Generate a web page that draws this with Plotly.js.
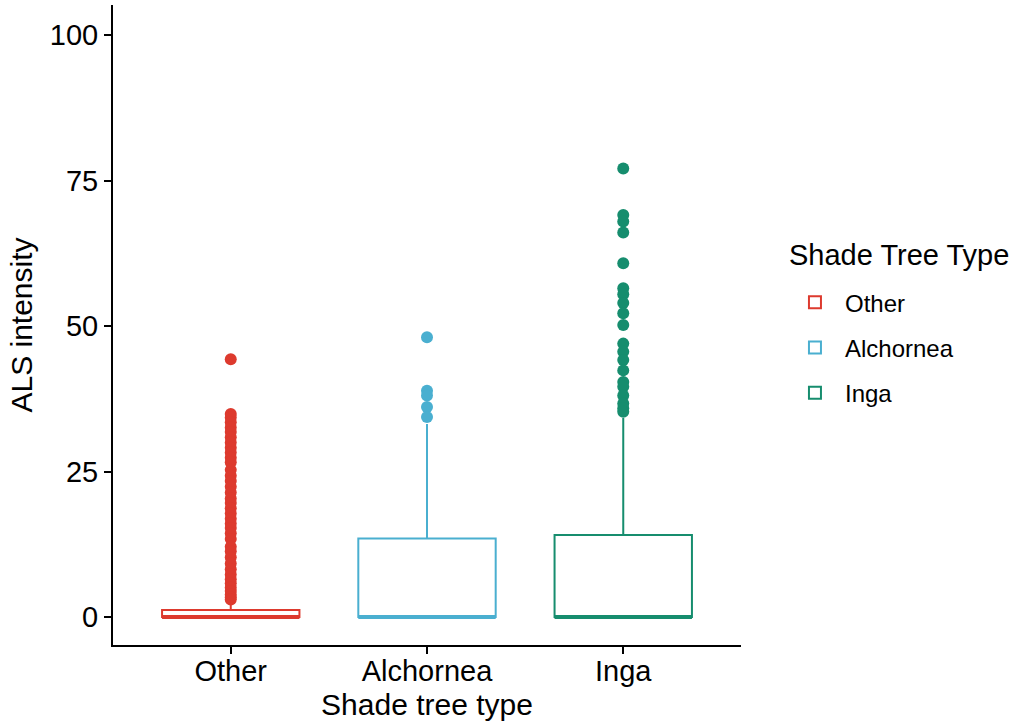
<!DOCTYPE html>
<html>
<head>
<meta charset="utf-8">
<script src="https://cdn.plot.ly/plotly-3.0.1.min.js"></script>
<style>html,body{margin:0;padding:0;background:#fff;}#chart{width:1029px;height:727px;}</style>
</head>
<body>
<div id="chart"></div>
<script>
const categories = ["Other", "Alchornea", "Inga"];
const colors = ["#DD3A2E", "#4AAFD0", "#168D6E"];
const q1 = [0, 0, 0];
const medians = [0, 0, 0];
const q3 = [1.2, 13.5, 14.1];
const lowerFences = [0, 0, 0];
const upperFences = [2.3, 33.2, 34.2];
const outliersOther = [44.3, 34.9, 34.3, 33.5, 32.6, 31.8, 30.9, 30.0, 29.1, 28.3, 27.4, 26.6, 25.3, 24.3, 23.4, 22.4, 21.4, 20.4, 19.6, 18.7, 17.8, 16.9, 16.1, 15.3, 14.4, 13.4, 12.1, 11.3, 10.3, 9.2, 8.2, 7.3, 6.5, 5.8, 5.1, 4.5, 3.9, 3.4, 3.0];
const outliersAlchornea = [48.1, 38.9, 38.1, 36.1, 34.4];
const outliersInga = [77.1, 69.1, 68.0, 66.1, 60.8, 56.5, 55.5, 54.0, 52.2, 50.2, 47.0, 45.6, 44.2, 42.4, 40.4, 39.6, 38.1, 36.7, 35.9, 35.3];
const outliers = [outliersOther, outliersAlchornea, outliersInga];
const legendTitle = "Shade Tree Type";

const font = "Liberation Sans, Arial, Helvetica, sans-serif";
const traces = [];
categories.forEach((c, i) => {
  traces.push({
    type: "box",
    name: c,
    legendgroup: c,
    x: [c],
    q1: [q1[i]],
    median: [medians[i]],
    q3: [q3[i]],
    lowerfence: [lowerFences[i]],
    upperfence: [upperFences[i]],
    boxpoints: false,
    width: 0.7,
    whiskerwidth: 0,
    line: {color: colors[i], width: 2},
    fillcolor: "white",
    hoverinfo: "skip"
  });
});
// thicker median line (as ggplot draws it)
categories.forEach((c, i) => {
  traces.push({
    type: "box",
    name: c + " median",
    legendgroup: c,
    showlegend: false,
    x: [c],
    q1: [medians[i]],
    median: [medians[i]],
    q3: [medians[i]],
    lowerfence: [medians[i]],
    upperfence: [medians[i]],
    boxpoints: false,
    width: 0.7,
    whiskerwidth: 0,
    line: {color: colors[i], width: 4},
    fillcolor: "rgba(0,0,0,0)",
    hoverinfo: "skip"
  });
});
categories.forEach((c, i) => {
  traces.push({
    type: "scatter",
    mode: "markers",
    name: c + " outliers",
    legendgroup: c,
    showlegend: false,
    x: outliers[i].map(() => c),
    y: outliers[i],
    marker: {color: colors[i], size: 12, line: {width: 0}},
    hoverinfo: "y"
  });
});

const layout = {
  width: 1029,
  height: 727,
  margin: {l: 113, r: 288, t: 5, b: 82},
  paper_bgcolor: "white",
  plot_bgcolor: "white",
  font: {family: font, color: "black"},
  boxmode: "overlay",
  showlegend: true,
  xaxis: {
    type: "category",
    categoryorder: "array",
    categoryarray: categories,
    range: [-0.6, 2.6],
    showline: true,
    linecolor: "black",
    linewidth: 2,
    ticks: "outside",
    ticklen: 7,
    tickwidth: 2,
    tickcolor: "black",
    ticklabelstandoff: -8,
    showgrid: false,
    zeroline: false,
    tickfont: {size: 29, family: font, color: "black"},
    title: {text: "Shade tree type", font: {size: 30, family: font, color: "black"}, standoff: 8}
  },
  yaxis: {
    range: [-4.8, 105.2],
    tickvals: [0, 25, 50, 75, 100],
    showline: true,
    linecolor: "black",
    linewidth: 2,
    ticks: "outside",
    ticklen: 7,
    tickwidth: 2,
    tickcolor: "black",
    showgrid: false,
    zeroline: false,
    tickfont: {size: 29, family: font, color: "black"},
    title: {text: "ALS intensity", font: {size: 30, family: font, color: "black"}, standoff: 8}
  },
  legend: {
    x: 1.07,
    xanchor: "left",
    y: 0.57,
    yanchor: "top",
    font: {size: 24, family: font, color: "black"},
    traceorder: "grouped",
    tracegroupgap: 11,
    itemwidth: 50,
    bgcolor: "rgba(0,0,0,0)"
  },
  annotations: [{
    xref: "paper", yref: "paper",
    x: 1.074, y: 0.609,
    xanchor: "left", yanchor: "middle",
    showarrow: false,
    text: legendTitle,
    font: {size: 29, family: font, color: "black"}
  }]
};

Plotly.newPlot("chart", traces, layout, {displayModeBar: false, staticPlot: true});
</script>
</body>
</html>
